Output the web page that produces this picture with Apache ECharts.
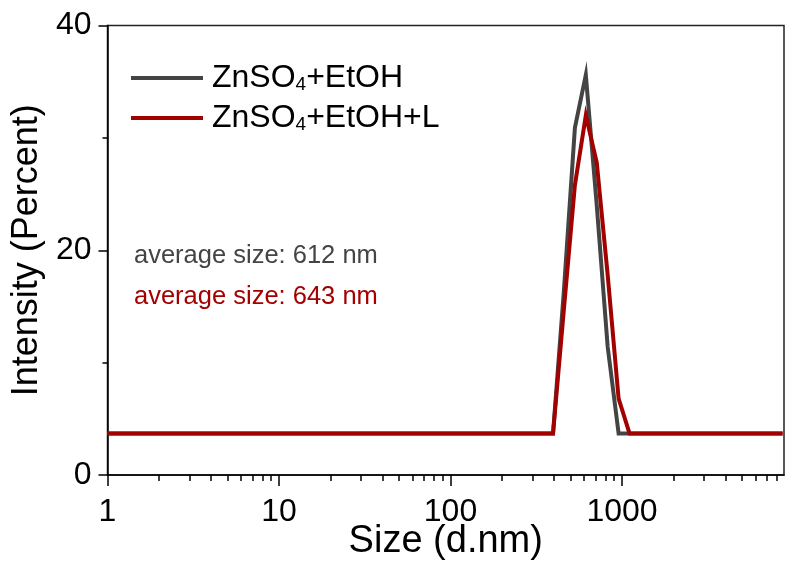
<!DOCTYPE html>
<html>
<head>
<meta charset="utf-8">
<script src="https://cdn.jsdelivr.net/npm/echarts@6/dist/echarts.min.js"></script>
<style>
  html, body { margin: 0; padding: 0; background: #fff; }
  #chart { width: 786px; height: 562px; }
</style>
</head>
<body>
<div id="chart"></div>
<script>
// DLS size distribution (size bins in nm, intensity in %)
const sizes      = [1, 396.1, 458.7, 531.2, 615.1, 712.4, 825.0, 955.4, 1106, 8635];
const intensityA = [3.7, 3.7, 16.5, 30.9, 35.6, 24.0, 11.4, 3.7, 3.7, 3.7];  // ZnSO4+EtOH
const intensityB = [3.7, 3.7, 14.8, 25.8, 32.0, 27.8, 17.8, 6.8, 3.7, 3.7];  // ZnSO4+EtOH+L

const seriesNames = ['ZnSO4+EtOH', 'ZnSO4+EtOH+L'];
const majorTicksX = [1, 10, 100, 1000];
const minorTicksX = [2, 3, 4, 5, 6, 7, 8, 9, 20, 30, 40, 50, 60, 70, 80, 90,
                     200, 300, 400, 500, 600, 700, 800, 900, 2000, 3000, 4000,
                     5000, 6000, 7000, 8000];
const avgLabels = ['average size: 612 nm', 'average size: 643 nm'];

const GRAY = '#444444';
const RED = '#a30000';
const FONT = 'Arial, "Liberation Sans", Helvetica, sans-serif';

const toPairs = (xs, ys) => xs.map((x, i) => [x, ys[i]]);

const chart = echarts.init(document.getElementById('chart'), null, { renderer: 'canvas' });

const xCommon = {
  type: 'log',
  logBase: 10,
  min: 1,
  max: 8800,
  gridIndex: 0,
  position: 'bottom',
  splitLine: { show: false }
};

chart.setOption({
  animation: false,
  backgroundColor: '#fff',
  grid: {
    left: 107.5, right: 2, top: 25.5, bottom: 87,
    containLabel: false, outerBoundsMode: 'none',
    show: true, borderColor: '#222', borderWidth: 1.5, backgroundColor: 'transparent'
  },
  legend: {
    orient: 'vertical',
    left: 131,
    top: 62,
    padding: 0,
    itemWidth: 72,
    itemHeight: 14,
    itemGap: 8,
    data: seriesNames.map((n, i) => ({
      name: n,
      itemStyle: { color: i === 0 ? GRAY : RED },
      icon: 'path://M0,0 L72,0 L72,4 L0,4 Z'
    })),
    formatter: name => name.replace('4', '{sub|4}').replace(/^([^{]+)/, '{main|$1}')
                          .replace(/\}([^{]+)$/, '}{main|$1}'),
    textStyle: {
      fontFamily: FONT, fontSize: 32, color: '#000', padding: [0, 0, 0, 4],
      rich: {
        main: { fontFamily: FONT, fontSize: 32, color: '#000', verticalAlign: 'bottom' },
        sub: { fontFamily: FONT, fontSize: 19, color: '#000', verticalAlign: 'bottom' }
      }
    }
  },
  xAxis: [
    Object.assign({}, xCommon, {
      name: 'Size (d.nm)',
      nameLocation: 'middle',
      nameGap: 48,
      nameMoveOverlap: false,
      nameTextStyle: { fontFamily: FONT, fontSize: 38, color: '#000' },
      axisLine: { show: true, lineStyle: { color: '#000', width: 1.5 } },
      axisTick: { show: true, inside: false, length: 11, customValues: majorTicksX,
                  lineStyle: { color: '#000', width: 1.5 } },
      axisLabel: { fontFamily: FONT, fontSize: 32, color: '#000', margin: 21,
                   customValues: majorTicksX,
                   formatter: v => String(Math.round(v)) }
    }),
    Object.assign({}, xCommon, {
      axisLine: { show: false },
      axisTick: { show: true, inside: false, length: 6, customValues: minorTicksX,
                  lineStyle: { color: '#000', width: 1.5 } },
      axisLabel: { show: false }
    })
  ],
  yAxis: {
    type: 'value',
    min: 0, max: 40, interval: 20,
    name: 'Intensity (Percent)',
    nameLocation: 'middle',
    nameGap: 62,
    nameMoveOverlap: false,
    nameTextStyle: { fontFamily: FONT, fontSize: 36, color: '#000' },
    axisLine: { show: true, lineStyle: { color: '#000', width: 1.5 } },
    axisTick: { show: true, inside: false, length: 9, lineStyle: { color: '#000', width: 1.5 } },
    minorTick: { show: true, splitNumber: 2, length: 5, lineStyle: { color: '#000', width: 1.5 } },
    axisLabel: { fontFamily: FONT, fontSize: 32, color: '#000', margin: 16, padding: [8, 0, 0, 0] },
    splitLine: { show: false }
  },
  graphic: [
    { type: 'text', left: 134, top: 243,
      style: { text: avgLabels[0], fontFamily: FONT, fontSize: 25.5, fill: GRAY } },
    { type: 'text', left: 134, top: 284,
      style: { text: avgLabels[1], fontFamily: FONT, fontSize: 25.5, fill: RED } }
  ],
  series: [
    {
      name: seriesNames[0], type: 'line', xAxisIndex: 0,
      data: toPairs(sizes, intensityA),
      showSymbol: false, symbol: 'none',
      color: GRAY,
      lineStyle: { color: GRAY, width: 4, join: 'miter' }
    },
    {
      name: seriesNames[1], type: 'line', xAxisIndex: 0,
      data: toPairs(sizes, intensityB),
      showSymbol: false, symbol: 'none',
      color: RED,
      lineStyle: { color: RED, width: 4, join: 'miter' }
    }
  ]
});
</script>
</body>
</html>
